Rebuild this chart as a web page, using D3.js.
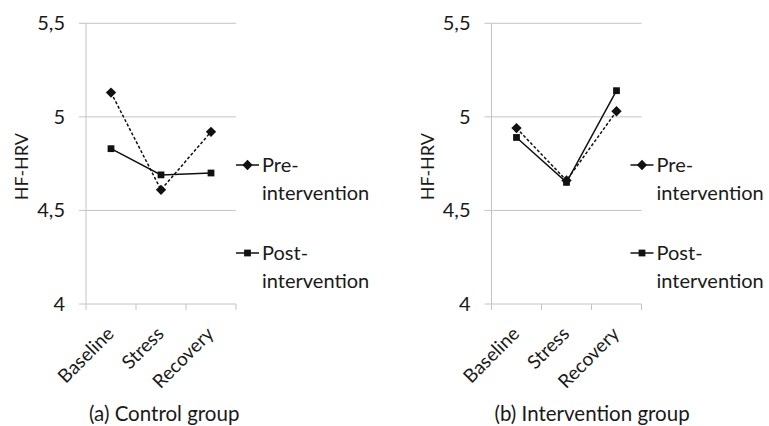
<!DOCTYPE html>
<html>
<head>
<meta charset="utf-8">
<script src="https://cdn.jsdelivr.net/npm/d3@7"></script>
<style>
  html, body { margin: 0; padding: 0; background: #fff; }
  svg { display: block; font-family: Lato, 'Open Sans', sans-serif; }
</style>
</head>
<body>
<svg id="chart" width="769" height="426"></svg>
<script>
const categories = ['Baseline', 'Stress', 'Recovery']
const yTicks = [4, 4.5, 5, 5.5]
const yTickLabels = ['4', '4,5', '5', '5,5']
const seriesNames = ['Pre-intervention', 'Post-intervention']

// control group
const controlPre = [5.13, 4.61, 4.92]
const controlPost = [4.83, 4.69, 4.70]
// intervention group
const interventionPre = [4.94, 4.66, 5.03]
const interventionPost = [4.89, 4.65, 5.14]

const panels = [
  { caption: '(a) Control group', left: 86, legendX: 236, pre: controlPre, post: controlPost },
  { caption: '(b) Intervention group', left: 491.5, legendX: 630.5, pre: interventionPre, post: interventionPost }
]

const svg = d3.select('#chart')
const plotTop = 23.3, plotBottom = 304, plotW = 150
const gridColor = '#c4c4c4'
const ink = '#111'
const textColor = '#1a1a1a'

const diamond = d3.symbol().type(d3.symbolDiamond2).size(68)
const square = d3.symbol().type(d3.symbolSquare).size(46)

function drawMarker(g, kind, x, y) {
  g.append('path')
    .attr('d', kind === 'pre' ? diamond() : square())
    .attr('transform', `translate(${x},${y})`)
    .attr('fill', ink)
}

panels.forEach(p => {
  const x = d3.scaleBand().domain(categories).range([p.left, p.left + plotW])
  const y = d3.scaleLinear().domain([4, 5.5]).range([plotBottom, plotTop])
  const g = svg.append('g')

  // gridlines + y tick labels
  g.selectAll('line.grid').data(yTicks).join('line')
    .attr('x1', p.left - 7).attr('x2', p.left + plotW)
    .attr('y1', d => y(d)).attr('y2', d => y(d))
    .attr('stroke', gridColor).attr('stroke-width', 1)
  g.selectAll('text.ytick').data(yTicks).join('text')
    .attr('x', p.left - 21).attr('y', d => y(d)).attr('dy', '0.35em')
    .attr('text-anchor', 'end').attr('font-size', 20).attr('fill', textColor)
    .text((d, i) => yTickLabels[i])

  // y axis
  g.append('line')
    .attr('x1', p.left).attr('x2', p.left).attr('y1', plotTop).attr('y2', plotBottom)
    .attr('stroke', gridColor)

  // x ticks at band edges
  const edges = categories.map(c => x(c)).concat([p.left + plotW])
  g.selectAll('line.xtick').data(edges).join('line')
    .attr('x1', d => d).attr('x2', d => d).attr('y1', plotBottom).attr('y2', plotBottom + 6)
    .attr('stroke', gridColor)

  // x labels, rotated
  g.selectAll('text.xlab').data(categories).join('text')
    .attr('transform', d => `translate(${x(d) + x.bandwidth() / 2 + 4},${plotBottom + 31}) rotate(-45)`)
    .attr('text-anchor', 'end').attr('font-size', 19).attr('fill', textColor)
    .text(d => d)

  // y axis title
  g.append('text')
    .attr('transform', `translate(${p.left - 64},${(plotTop + plotBottom) / 2 + 3}) rotate(-90)`)
    .attr('text-anchor', 'middle').attr('dy', '0.35em')
    .attr('font-size', 18).attr('fill', textColor)
    .text('HF-HRV')

  // series
  const line = d3.line().x((d, i) => x(categories[i]) + x.bandwidth() / 2).y(d => y(d))
  g.append('path').attr('d', line(p.post))
    .attr('fill', 'none').attr('stroke', ink).attr('stroke-width', 1.5)
  g.append('path').attr('d', line(p.pre))
    .attr('fill', 'none').attr('stroke', ink).attr('stroke-width', 1.5)
    .attr('stroke-dasharray', '3,2')
  p.post.forEach((v, i) => drawMarker(g, 'post', x(categories[i]) + x.bandwidth() / 2, y(v)))
  p.pre.forEach((v, i) => drawMarker(g, 'pre', x(categories[i]) + x.bandwidth() / 2, y(v)))

  // legend
  const lx = p.legendX
  const legendRows = [
    { kind: 'pre', y: 165, name: seriesNames[0] },
    { kind: 'post', y: 253, name: seriesNames[1] }
  ]
  legendRows.forEach(r => {
    g.append('line')
      .attr('x1', lx).attr('x2', lx + 23).attr('y1', r.y).attr('y2', r.y)
      .attr('stroke', ink).attr('stroke-width', 1.5)
    drawMarker(g, r.kind, lx + 11.5, r.y)
    const parts = r.name.split('-')
    const t = g.append('text').attr('x', lx + 26).attr('y', r.y).attr('font-size', 20).attr('fill', textColor)
    t.append('tspan').attr('x', lx + 26).attr('dy', '0.35em').text(parts[0] + '-')
    t.append('tspan').attr('x', lx + 26).attr('dy', '1.4em').text(parts[1])
  })

  // caption
  g.append('text')
    .attr('x', p.left + 3).attr('y', 421)
    .attr('font-size', 20.5).attr('fill', textColor)
    .text(p.caption)
})
</script>
</body>
</html>
